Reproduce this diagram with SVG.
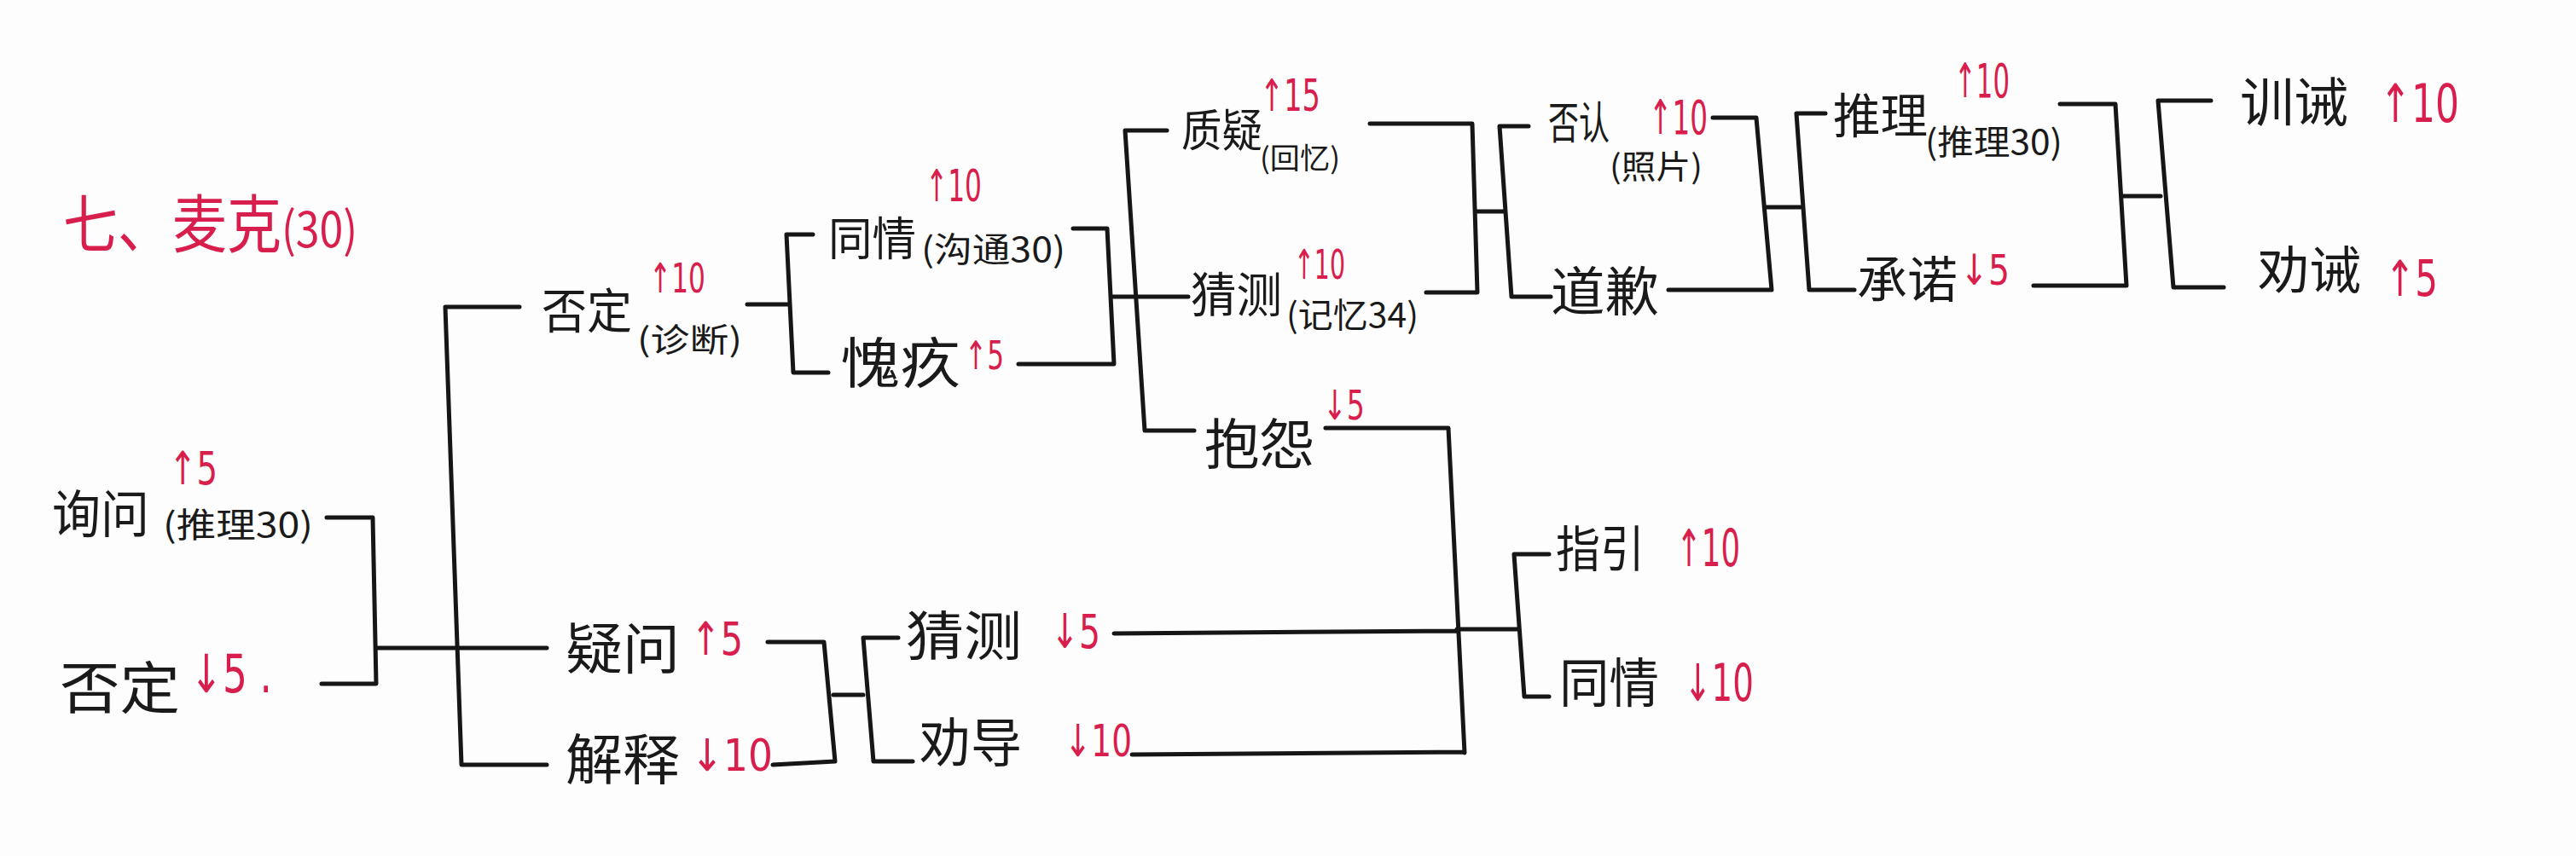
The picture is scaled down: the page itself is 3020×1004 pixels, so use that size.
<svg xmlns="http://www.w3.org/2000/svg" width="3020" height="1004" viewBox="0 0 3020 1004">
<style>
.ln{stroke:#161616;stroke-width:5;fill:none;stroke-linecap:round;stroke-linejoin:round}
.t{font-family:"Noto Sans CJK SC","Noto Sans CJK JP",sans-serif;fill:#1a1a1a}
.s{font-family:"Noto Sans CJK SC","Noto Sans CJK JP",sans-serif;fill:#1a1a1a}
.r{font-family:"DejaVu Sans","Liberation Sans","Noto Sans CJK SC",sans-serif;fill:#d81e4c}
.h{font-family:"Noto Sans CJK SC","Noto Sans CJK JP",sans-serif;fill:#d81e4c}
</style>
<rect width="3020" height="1004" fill="#fdfdfd"/>
<g id="title">
<text class="h" transform="translate(74,290) scale(1,1.15)"><tspan font-size="64">七、麦克</tspan><tspan font-size="50">(30)</tspan></text>
</g>
<g id="connectors">
<path class="ln" d="M383,607 L437,607 L441,802 L377,802 M441,760 L641,760"/>
<path class="ln" d="M609,360 L522,360 L541,897 L641,897"/>
<path class="ln" d="M876,357 L925,357 M953,275 L922,275 L930,437 L971,437"/>
<path class="ln" d="M1258,268 L1298,268 L1306,427 L1194,427 M1304,348 L1393,348"/>
<path class="ln" d="M1368,153 L1319,153 L1342,505 L1400,505"/>
<path class="ln" d="M1606,145 L1726,145 L1732,343 L1672,343 M1730,248 L1764,248"/>
<path class="ln" d="M1792,148 L1758,148 L1772,348 L1818,348"/>
<path class="ln" d="M2008,138 L2059,138 L2077,340 L1956,340 M2070,243 L2111,243"/>
<path class="ln" d="M2140,133 L2106,133 L2121,340 L2174,340"/>
<path class="ln" d="M2415,122 L2480,122 L2493,335 L2384,335 M2488,230 L2533,230"/>
<path class="ln" d="M2592,118 L2530,118 L2548,337 L2607,337"/>
<path class="ln" d="M900,753 L966,753 L979,893 L906,897 M977,815 L1012,815"/>
<path class="ln" d="M1053,748 L1012,748 L1024,893 L1070,893"/>
<path class="ln" d="M1306,743 L1708,740 M1327,885 L1717,882 M1554,502 L1698,502 L1717,883 M1708,738 L1779,738"/>
<path class="ln" d="M1816,650 L1775,650 L1787,817 L1816,817"/>
</g>
<g id="n-xunwen">
<text class="t" x="61" y="625" font-size="60" textLength="114" lengthAdjust="spacingAndGlyphs">询问</text>
<text class="s" x="191" y="630" font-size="40" textLength="176" lengthAdjust="spacingAndGlyphs">(推理30)</text>
<text class="r" x="198" y="568" font-size="54" textLength="57" lengthAdjust="spacingAndGlyphs">↑5</text>
</g>
<g id="n-fouding1">
<text class="t" x="70" y="831" font-size="66" textLength="141" lengthAdjust="spacingAndGlyphs">否定</text>
<text class="r" x="223" y="812" font-size="62" textLength="96" lengthAdjust="spacingAndGlyphs">↓5 .</text>
</g>
<g id="n-fouding2">
<text class="t" x="635" y="385" font-size="56" textLength="106" lengthAdjust="spacingAndGlyphs">否定</text>
<text class="s" x="747" y="412" font-size="38" textLength="123" lengthAdjust="spacingAndGlyphs">(诊断)</text>
<text class="r" x="761" y="343" font-size="48" textLength="66" lengthAdjust="spacingAndGlyphs">↑10</text>
</g>
<g id="n-tongqing1">
<text class="t" x="971" y="300" font-size="54" textLength="103" lengthAdjust="spacingAndGlyphs">同情</text>
<text class="s" x="1080" y="307" font-size="40" textLength="169" lengthAdjust="spacingAndGlyphs">(沟通30)</text>
<text class="r" x="1085" y="236" font-size="52" textLength="66" lengthAdjust="spacingAndGlyphs">↑10</text>
</g>
<g id="n-kuijiu">
<text class="t" x="985" y="449" font-size="64" textLength="141" lengthAdjust="spacingAndGlyphs">愧疚</text>
<text class="r" x="1131" y="433" font-size="46" textLength="46" lengthAdjust="spacingAndGlyphs">↑5</text>
</g>
<g id="n-zhiyi">
<text class="t" x="1385" y="172" font-size="52" textLength="95" lengthAdjust="spacingAndGlyphs">质疑</text>
<text class="s" x="1477" y="198" font-size="34" textLength="94" lengthAdjust="spacingAndGlyphs">(回忆)</text>
<text class="r" x="1477" y="130" font-size="52" textLength="71" lengthAdjust="spacingAndGlyphs">↑15</text>
</g>
<g id="n-caice1">
<text class="t" x="1396" y="366" font-size="56" textLength="107" lengthAdjust="spacingAndGlyphs">猜测</text>
<text class="s" x="1508" y="384" font-size="40" textLength="155" lengthAdjust="spacingAndGlyphs">(记忆34)</text>
<text class="r" x="1517" y="327" font-size="48" textLength="60" lengthAdjust="spacingAndGlyphs">↑10</text>
</g>
<g id="n-baoyuan">
<text class="t" x="1412" y="544" font-size="64" textLength="129" lengthAdjust="spacingAndGlyphs">抱怨</text>
<text class="r" x="1551" y="492" font-size="48" textLength="49" lengthAdjust="spacingAndGlyphs">↓5</text>
</g>
<g id="n-fouren">
<text class="t" x="1815" y="163" font-size="52" textLength="72" lengthAdjust="spacingAndGlyphs">否认</text>
<text class="s" x="1887" y="209" font-size="38" textLength="109" lengthAdjust="spacingAndGlyphs">(照片)</text>
<text class="r" x="1933" y="157" font-size="56" textLength="69" lengthAdjust="spacingAndGlyphs">↑10</text>
</g>
<g id="n-daoqian">
<text class="t" x="1818" y="365" font-size="62" textLength="127" lengthAdjust="spacingAndGlyphs">道歉</text>
</g>
<g id="n-tuili">
<text class="t" x="2149" y="156" font-size="56" textLength="111" lengthAdjust="spacingAndGlyphs">推理</text>
<text class="s" x="2257" y="181" font-size="40" textLength="161" lengthAdjust="spacingAndGlyphs">(推理30)</text>
<text class="r" x="2291" y="114" font-size="56" textLength="65" lengthAdjust="spacingAndGlyphs">↑10</text>
</g>
<g id="n-chengnuo">
<text class="t" x="2177" y="349" font-size="58" textLength="118" lengthAdjust="spacingAndGlyphs">承诺</text>
<text class="r" x="2298" y="334" font-size="50" textLength="58" lengthAdjust="spacingAndGlyphs">↓5</text>
</g>
<g id="n-xunjie">
<text class="t" x="2626" y="143" font-size="62" textLength="127" lengthAdjust="spacingAndGlyphs">训诫</text>
<text class="r" x="2790" y="143" font-size="62" textLength="93" lengthAdjust="spacingAndGlyphs">↑10</text>
</g>
<g id="n-quanjie">
<text class="t" x="2647" y="339" font-size="60" textLength="121" lengthAdjust="spacingAndGlyphs">劝诫</text>
<text class="r" x="2796" y="347" font-size="58" textLength="62" lengthAdjust="spacingAndGlyphs">↑5</text>
</g>
<g id="n-yiwen">
<text class="t" x="663" y="784" font-size="64" textLength="134" lengthAdjust="spacingAndGlyphs">疑问</text>
<text class="r" x="810" y="768" font-size="54" textLength="61" lengthAdjust="spacingAndGlyphs">↑5</text>
</g>
<g id="n-jieshi">
<text class="t" x="663" y="914" font-size="64" textLength="134" lengthAdjust="spacingAndGlyphs">解释</text>
<text class="r" x="810" y="904" font-size="52" textLength="96" lengthAdjust="spacingAndGlyphs">↓10</text>
</g>
<g id="n-caice2">
<text class="t" x="1062" y="769" font-size="62" textLength="136" lengthAdjust="spacingAndGlyphs">猜测</text>
<text class="r" x="1232" y="760" font-size="56" textLength="58" lengthAdjust="spacingAndGlyphs">↓5</text>
</g>
<g id="n-quandao">
<text class="t" x="1078" y="894" font-size="62" textLength="120" lengthAdjust="spacingAndGlyphs">劝导</text>
<text class="r" x="1248" y="887" font-size="52" textLength="79" lengthAdjust="spacingAndGlyphs">↓10</text>
</g>
<g id="n-zhiyin">
<text class="t" x="1824" y="665" font-size="58" textLength="104" lengthAdjust="spacingAndGlyphs">指引</text>
<text class="r" x="1965" y="664" font-size="60" textLength="75" lengthAdjust="spacingAndGlyphs">↑10</text>
</g>
<g id="n-tongqing2">
<text class="t" x="1828" y="824" font-size="62" textLength="117" lengthAdjust="spacingAndGlyphs">同情</text>
<text class="r" x="1974" y="822" font-size="60" textLength="82" lengthAdjust="spacingAndGlyphs">↓10</text>
</g>
</svg>
